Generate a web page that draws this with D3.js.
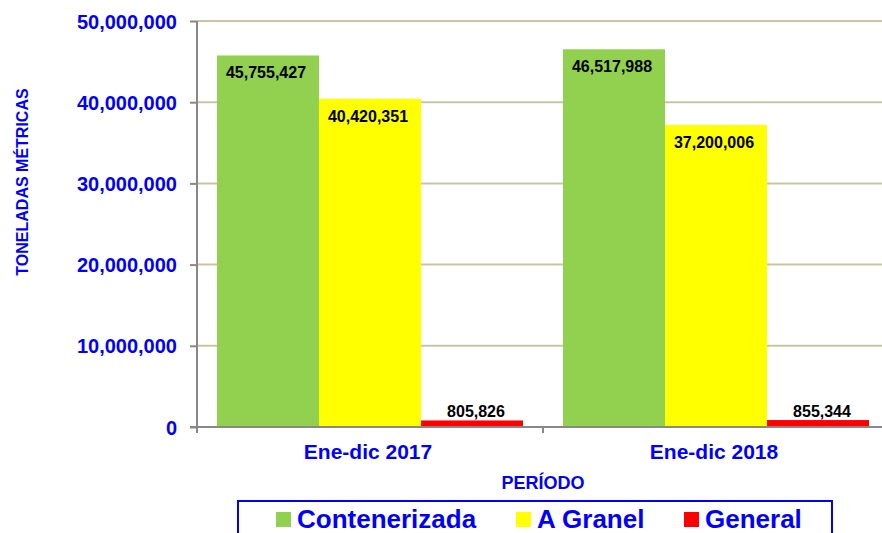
<!DOCTYPE html>
<html lang="es">
<head>
<meta charset="UTF-8">
<title>Toneladas métricas</title>
<script src="https://cdn.jsdelivr.net/npm/d3@7"></script>
<style>
  body { margin: 0; background: #fff; }
  text { font-family: 'Liberation Sans', Arial, sans-serif; font-weight: bold; }
</style>
</head>
<body>
<script>
  // data
  const periods = ["Ene-dic 2017", "Ene-dic 2018"];
  const seriesNames = ["Contenerizada", "A Granel", "General"];
  const contenerizada = [45755427, 46517988];
  const aGranel = [40420351, 37200006];
  const general = [805826, 855344];
  const yTicks = [0, 10000000, 20000000, 30000000, 40000000, 50000000];
  const colors = ["#92d050", "#ffff00", "#ff0000"];

  const values = [contenerizada, aGranel, general];
  const rows = [];
  periods.forEach(function(p, i) {
    seriesNames.forEach(function(s, j) {
      rows.push({period: p, series: s, value: values[j][i], k: j});
    });
  });

  const W = 882, H = 533;
  const svg = d3.select("body").append("svg")
      .attr("width", W).attr("height", H);

  const x0 = d3.scaleBand().domain(periods).range([197, 889]);
  const x1 = d3.scaleBand().domain(seriesNames)
      .range([20, x0.bandwidth() - 20]);
  const y = d3.scaleLinear().domain([0, 50000000]).range([427, 21]);

  // gridlines
  svg.append("g").selectAll("line")
    .data(yTicks.slice(1)).join("line")
      .attr("x1", 197).attr("x2", W)
      .attr("y1", d => y(d)).attr("y2", d => y(d))
      .attr("stroke", "#cbc4a2").attr("stroke-width", 2);

  // bars
  svg.append("g").selectAll("rect")
    .data(rows).join("rect")
      .attr("x", d => x0(d.period) + x1(d.series))
      .attr("width", x1.bandwidth())
      .attr("y", d => y(d.value))
      .attr("height", d => y(0) - y(d.value))
      .attr("fill", d => colors[d.k]);

  // value labels
  const fmt = d3.format(",");
  svg.append("g").selectAll("text")
    .data(rows).join("text")
      .attr("x", d => x0(d.period) + x1(d.series) + x1.bandwidth() / 2 + (d.k == 2 ? 4 : -2))
      .attr("y", d => d.k == 2 ? y(d.value) - 3 : y(d.value) + 23)
      .attr("text-anchor", "middle")
      .attr("font-size", 16)
      .attr("fill", "#000")
      .text(d => fmt(d.value));

  // y axis
  const yAxis = svg.append("g").attr("transform", "translate(197,0)")
      .call(d3.axisLeft(y).tickValues(yTicks).tickFormat(fmt).tickSize(7).tickPadding(13));
  yAxis.select(".domain").attr("stroke", "#888").attr("stroke-width", 2)
      .attr("d", "M0,21V433");
  yAxis.selectAll(".tick line").attr("stroke", "#888").attr("stroke-width", 2);
  yAxis.selectAll(".tick text")
      .attr("fill", "#0000ff").attr("font-size", 20)
      .attr("font-family", "'Liberation Sans', Arial, sans-serif")
      .attr("font-weight", "bold").attr("dy", "0.35em");

  // x axis
  svg.append("line")
      .attr("x1", 190).attr("x2", W).attr("y1", 427).attr("y2", 427)
      .attr("stroke", "#888").attr("stroke-width", 2);
  svg.append("g").selectAll("line")
    .data(periods).join("line")
      .attr("x1", d => x0(d)).attr("x2", d => x0(d))
      .attr("y1", 427).attr("y2", 433)
      .attr("stroke", "#888").attr("stroke-width", 2);
  svg.append("g").selectAll("text")
    .data(periods).join("text")
      .attr("x", d => x0(d) + x0.bandwidth() / 2 - 2)
      .attr("y", 459)
      .attr("text-anchor", "middle")
      .attr("font-size", 21)
      .attr("fill", "#0000ff")
      .text(d => d);

  // axis titles
  svg.append("text")
      .attr("x", 543).attr("y", 489)
      .attr("text-anchor", "middle")
      .attr("font-size", 18).attr("fill", "#0000ff")
      .text("PERÍODO");
  svg.append("text")
      .attr("transform", "translate(28,182) rotate(-90)")
      .attr("text-anchor", "middle")
      .attr("font-size", 16).attr("fill", "#0000ff")
      .text("TONELADAS MÉTRICAS");

  // legend
  svg.append("rect")
      .attr("x", 238).attr("y", 501).attr("width", 594).attr("height", 50)
      .attr("fill", "none").attr("stroke", "#0000ff").attr("stroke-width", 2);
  const legX = [276, 516, 684];
  const leg = svg.append("g").selectAll("g")
    .data(seriesNames).join("g")
      .attr("transform", (d, i) => "translate(" + legX[i] + ",0)");
  leg.append("rect")
      .attr("x", 0).attr("y", 512).attr("width", 15).attr("height", 15)
      .attr("fill", (d, i) => colors[i]);
  leg.append("text")
      .attr("x", 21).attr("y", 528)
      .attr("font-size", 26).attr("fill", "#0000ff")
      .text(d => d);
</script>
</body>
</html>
